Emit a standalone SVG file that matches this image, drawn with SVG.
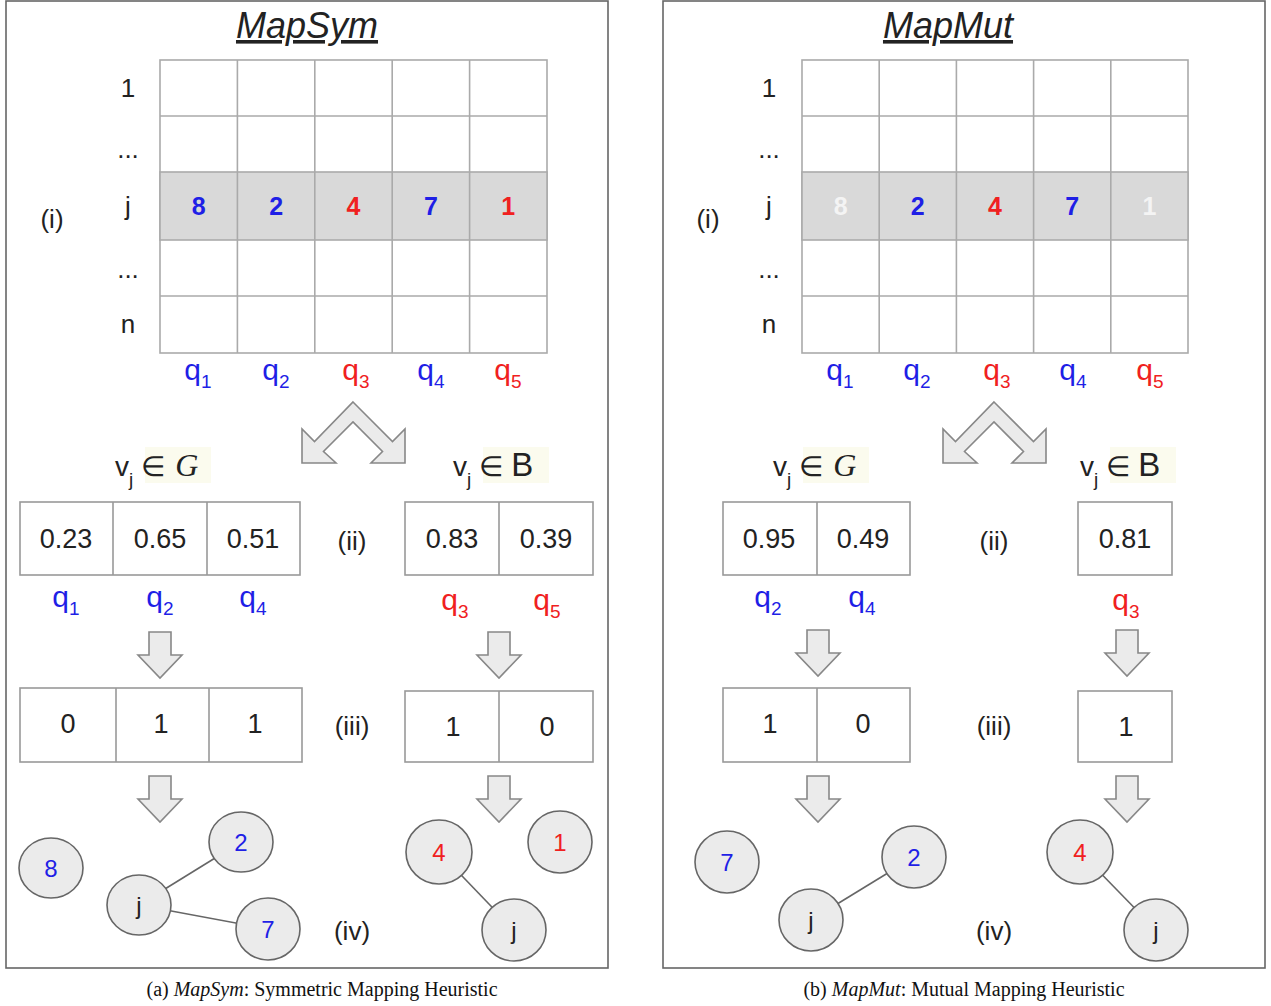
<svg xmlns="http://www.w3.org/2000/svg" width="1271" height="1006" viewBox="0 0 1271 1006">
<style>
text{font-family:"Liberation Sans",Arial,sans-serif;fill:#222}
.panel{fill:#fff;stroke:#666;stroke-width:1.6}
.grid{fill:none;stroke:#aaa;stroke-width:1.6}
.hl{fill:#d9d9d9;stroke:#aaa;stroke-width:1.6}
.tbl{fill:#fff;stroke:#999;stroke-width:1.6}
.title{font-size:36px;font-style:italic;text-anchor:middle;text-decoration:underline}
.rl{font-size:26px;text-anchor:middle}
.gn{font-size:25px;font-weight:bold;text-anchor:middle}
.q{font-size:30px;text-anchor:middle}
.sub{font-size:19px}
.tn{font-size:27px;text-anchor:middle}
.lab{font-size:26px;text-anchor:middle}
.b{fill:#1f1fe6}
.r{fill:#f02020}
.w{fill:#f4f4f4}
.arrow{fill:#ebebeb;stroke:#888;stroke-width:1.6;stroke-linejoin:miter}
.node{fill:#ebebeb;stroke:#666;stroke-width:1.6}
.nt{font-size:24px;text-anchor:middle}
.edge{stroke:#666;stroke-width:1.6;fill:none}
.cap{font-family:"Liberation Serif","Times New Roman",serif;font-size:20px;text-anchor:middle;fill:#111}
.hlbg{fill:#fbfbee}
</style>
<defs>
<path id="dbl" d="M353,402 L392.5,441.5 L405,429 L405,463 L371,463 L382.5,451.5 L353,422 L323.5,451.5 L336,463 L302,463 L302,429 L314.5,441.5 Z"/>
<path id="down" d="M-11,0 L11,0 L11,23 L22,23 L0,46 L-22,23 L-11,23 Z"/>
</defs>

<rect id="frame-a" class="panel" x="6" y="1" width="602" height="967"/>
<rect id="frame-b" class="panel" x="663" y="1" width="602" height="967"/>

<!-- Panel (a) -->
<g id="panel-a">
<text class="title" x="307" y="38">MapSym</text>
<text class="rl" x="128" y="97">1</text>
<text class="rl" x="128" y="158">...</text>
<text class="rl" x="128" y="215">j</text>
<text class="rl" x="128" y="278">...</text>
<text class="rl" x="128" y="333">n</text>
<text class="lab" x="52" y="228">(i)</text>
</g>
<g id="matrix-a">
<rect class="grid" x="160" y="60" width="387" height="293"/>
<rect class="hl" x="160" y="172" width="387" height="68"/>
<path class="grid" d="M160,116H547M160,296H547M237.4,60V353M314.8,60V353M392.2,60V353M469.6,60V353"/>
<text class="gn b" x="198.7" y="215">8</text>
<text class="gn b" x="276.1" y="215">2</text>
<text class="gn r" x="353.5" y="215">4</text>
<text class="gn b" x="430.9" y="215">7</text>
<text class="gn r" x="508.3" y="215">1</text>
<text class="q b" x="198" y="380">q<tspan class="sub" dy="8">1</tspan></text>
<text class="q b" x="276" y="380">q<tspan class="sub" dy="8">2</tspan></text>
<text class="q r" x="356" y="380">q<tspan class="sub" dy="8">3</tspan></text>
<text class="q b" x="431" y="380">q<tspan class="sub" dy="8">4</tspan></text>
<text class="q r" x="508" y="380">q<tspan class="sub" dy="8">5</tspan></text>
</g>
<g id="vg-a">
<rect class="hlbg" x="145" y="447" width="66" height="36"/>
<text x="115" y="476" style="font-size:28px">v<tspan class="sub" dy="10">j</tspan><tspan dy="-10" dx="8">∈</tspan><tspan dx="10" style="font-family:'Liberation Serif',serif;font-style:italic;font-size:32px">G</tspan></text>
</g>
<g id="vb-a">
<rect class="hlbg" x="483" y="447" width="66" height="36"/>
<text x="453" y="476" style="font-size:28px">v<tspan class="sub" dy="10">j</tspan><tspan dy="-10" dx="8">∈</tspan><tspan dx="8" style="font-size:33px">B</tspan></text>
</g>
<g id="ii-a-left">
<rect class="tbl" x="20" y="502" width="280" height="73"/>
<path class="tbl" d="M113,502V575M207,502V575"/>
<text class="tn" x="66" y="548">0.23</text>
<text class="tn" x="160" y="548">0.65</text>
<text class="tn" x="253" y="548">0.51</text>
<text class="q b" x="66" y="607">q<tspan class="sub" dy="8">1</tspan></text>
<text class="q b" x="160" y="607">q<tspan class="sub" dy="8">2</tspan></text>
<text class="q b" x="253" y="607">q<tspan class="sub" dy="8">4</tspan></text>
</g>
<text class="lab" x="352" y="550">(ii)</text>
<g id="ii-a-right">
<rect class="tbl" x="405" y="502" width="188" height="73"/>
<path class="tbl" d="M499,502V575"/>
<text class="tn" x="452" y="548">0.83</text>
<text class="tn" x="546" y="548">0.39</text>
<text class="q r" x="455" y="610">q<tspan class="sub" dy="8">3</tspan></text>
<text class="q r" x="547" y="610">q<tspan class="sub" dy="8">5</tspan></text>
</g>
<g id="iii-a-left">
<rect class="tbl" x="20" y="688" width="282" height="74"/>
<path class="tbl" d="M116,688V762M209,688V762"/>
<text class="tn" x="68" y="733">0</text>
<text class="tn" x="161" y="733">1</text>
<text class="tn" x="255" y="733">1</text>
</g>
<text class="lab" x="352" y="735">(iii)</text>
<g id="iii-a-right">
<rect class="tbl" x="405" y="691" width="188" height="71"/>
<path class="tbl" d="M499,691V762"/>
<text class="tn" x="453" y="736">1</text>
<text class="tn" x="547" y="736">0</text>
</g>
<text class="lab" x="352" y="940">(iv)</text>
<text class="cap" x="322" y="996">(a) <tspan font-style="italic">MapSym</tspan>: Symmetric Mapping Heuristic</text>

<!-- Panel (b) -->
<g id="panel-b">
<text class="title" x="948" y="38">MapMut</text>
<text class="rl" x="769" y="97">1</text>
<text class="rl" x="769" y="158">...</text>
<text class="rl" x="769" y="215">j</text>
<text class="rl" x="769" y="278">...</text>
<text class="rl" x="769" y="333">n</text>
<text class="lab" x="708" y="228">(i)</text>
</g>
<g id="matrix-b">
<rect class="grid" x="802" y="60" width="386" height="293"/>
<rect class="hl" x="802" y="172" width="386" height="68"/>
<path class="grid" d="M802,116H1188M802,296H1188M879.2,60V353M956.4,60V353M1033.6,60V353M1110.8,60V353"/>
<text class="gn w" x="840.6" y="215">8</text>
<text class="gn b" x="917.8" y="215">2</text>
<text class="gn r" x="995" y="215">4</text>
<text class="gn b" x="1072.2" y="215">7</text>
<text class="gn w" x="1149.4" y="215">1</text>
<text class="q b" x="840" y="380">q<tspan class="sub" dy="8">1</tspan></text>
<text class="q b" x="917" y="380">q<tspan class="sub" dy="8">2</tspan></text>
<text class="q r" x="997" y="380">q<tspan class="sub" dy="8">3</tspan></text>
<text class="q b" x="1073" y="380">q<tspan class="sub" dy="8">4</tspan></text>
<text class="q r" x="1150" y="380">q<tspan class="sub" dy="8">5</tspan></text>
</g>
<g id="vg-b">
<rect class="hlbg" x="803" y="447" width="66" height="36"/>
<text x="773" y="476" style="font-size:28px">v<tspan class="sub" dy="10">j</tspan><tspan dy="-10" dx="8">∈</tspan><tspan dx="10" style="font-family:'Liberation Serif',serif;font-style:italic;font-size:32px">G</tspan></text>
</g>
<g id="vb-b">
<rect class="hlbg" x="1110" y="447" width="66" height="36"/>
<text x="1080" y="476" style="font-size:28px">v<tspan class="sub" dy="10">j</tspan><tspan dy="-10" dx="8">∈</tspan><tspan dx="8" style="font-size:33px">B</tspan></text>
</g>
<g id="ii-b-left">
<rect class="tbl" x="723" y="502" width="187" height="73"/>
<path class="tbl" d="M817,502V575"/>
<text class="tn" x="769" y="548">0.95</text>
<text class="tn" x="863" y="548">0.49</text>
<text class="q b" x="768" y="607">q<tspan class="sub" dy="8">2</tspan></text>
<text class="q b" x="862" y="607">q<tspan class="sub" dy="8">4</tspan></text>
</g>
<text class="lab" x="994" y="550">(ii)</text>
<g id="ii-b-right">
<rect class="tbl" x="1078" y="502" width="94" height="73"/>
<text class="tn" x="1125" y="548">0.81</text>
<text class="q r" x="1126" y="610">q<tspan class="sub" dy="8">3</tspan></text>
</g>
<g id="iii-b-left">
<rect class="tbl" x="723" y="688" width="187" height="74"/>
<path class="tbl" d="M817,688V762"/>
<text class="tn" x="770" y="733">1</text>
<text class="tn" x="863" y="733">0</text>
</g>
<text class="lab" x="994" y="735">(iii)</text>
<g id="iii-b-right">
<rect class="tbl" x="1078" y="691" width="94" height="71"/>
<text class="tn" x="1126" y="736">1</text>
</g>
<text class="lab" x="994" y="940">(iv)</text>
<text class="cap" x="964" y="996">(b) <tspan font-style="italic">MapMut</tspan>: Mutual Mapping Heuristic</text>

<g id="connectors">
<use href="#dbl" class="arrow"/>
<use href="#down" class="arrow" x="160" y="632"/>
<use href="#down" class="arrow" x="499" y="632"/>
<use href="#down" class="arrow" x="160" y="776"/>
<use href="#down" class="arrow" x="499" y="776"/>
<use href="#dbl" class="arrow" x="641"/>
<use href="#down" class="arrow" x="818" y="630"/>
<use href="#down" class="arrow" x="1127" y="630"/>
<use href="#down" class="arrow" x="818" y="776"/>
<use href="#down" class="arrow" x="1127" y="776"/>
<line class="edge" x1="139" y1="905" x2="241" y2="842"/>
<line class="edge" x1="139" y1="905" x2="268" y2="929"/>
<line class="edge" x1="439" y1="852" x2="514" y2="930"/>
<line class="edge" x1="811" y1="920" x2="914" y2="857"/>
<line class="edge" x1="1080" y1="852" x2="1156" y2="930"/>
</g>

<g id="node-a-8"><ellipse class="node" cx="51" cy="868" rx="32" ry="30"/><text class="nt b" x="51" y="877">8</text></g>
<g id="node-a-2"><ellipse class="node" cx="241" cy="842" rx="32" ry="30"/><text class="nt b" x="241" y="851">2</text></g>
<g id="node-a-j"><ellipse class="node" cx="139" cy="905" rx="32" ry="30"/><text class="nt" x="139" y="914">j</text></g>
<g id="node-a-7"><ellipse class="node" cx="268" cy="929" rx="32" ry="31"/><text class="nt b" x="268" y="938">7</text></g>
<g id="node-a-4"><ellipse class="node" cx="439" cy="852" rx="33" ry="32"/><text class="nt r" x="439" y="861">4</text></g>
<g id="node-a-1"><ellipse class="node" cx="560" cy="842" rx="32" ry="31"/><text class="nt r" x="560" y="851">1</text></g>
<g id="node-a-jb"><ellipse class="node" cx="514" cy="930" rx="32" ry="31"/><text class="nt" x="514" y="939">j</text></g>

<g id="node-b-7"><ellipse class="node" cx="727" cy="862" rx="32" ry="31"/><text class="nt b" x="727" y="871">7</text></g>
<g id="node-b-2"><ellipse class="node" cx="914" cy="857" rx="32" ry="31"/><text class="nt b" x="914" y="866">2</text></g>
<g id="node-b-j"><ellipse class="node" cx="811" cy="920" rx="32" ry="31"/><text class="nt" x="811" y="929">j</text></g>
<g id="node-b-4"><ellipse class="node" cx="1080" cy="852" rx="33" ry="32"/><text class="nt r" x="1080" y="861">4</text></g>
<g id="node-b-jb"><ellipse class="node" cx="1156" cy="930" rx="32" ry="31"/><text class="nt" x="1156" y="939">j</text></g>
</svg>
